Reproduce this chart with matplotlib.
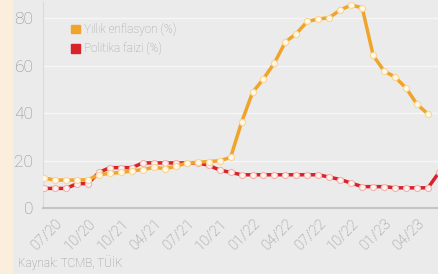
import matplotlib
matplotlib.use("Agg")
import matplotlib.pyplot as plt
from matplotlib.patches import Patch, Rectangle

# monthly data, 06/20 .. 06/23
months = ["06/20", "07/20", "08/20", "09/20", "10/20", "11/20", "12/20",
          "01/21", "02/21", "03/21", "04/21", "05/21", "06/21", "07/21", "08/21",
          "09/21", "10/21", "11/21", "12/21", "01/22", "02/22", "03/22", "04/22",
          "05/22", "06/22", "07/22", "08/22", "09/22", "10/22", "11/22", "12/22",
          "01/23", "02/23", "03/23", "04/23", "05/23", "06/23"]

enflasyon = [12.62, 11.76, 11.77, 11.75, 11.89, 14.03, 14.60,
             14.97, 15.61, 16.19, 17.14, 16.59, 17.53, 18.95, 19.25,
             19.58, 19.89, 21.31, 36.08, 48.69, 54.44, 61.14, 69.97,
             73.50, 78.62, 79.60, 80.21, 83.45, 85.51, 84.39, 64.27,
             57.68, 55.18, 50.51, 43.68, 39.59]

faiz = [8.25, 8.25, 8.25, 10.25, 10.25, 15.0, 17.0,
        17.0, 17.0, 19.0, 19.0, 19.0, 19.0, 19.0, 19.0,
        18.0, 16.0, 15.0, 14.0, 14.0, 14.0, 14.0, 14.0,
        14.0, 14.0, 14.0, 13.0, 12.0, 10.5, 9.0, 9.0,
        9.0, 8.5, 8.5, 8.5, 8.5, 15.0]

# tick labels as printed (third one reads 10/21 in the original)
tick_idx = [1, 4, 7, 10, 13, 16, 19, 22, 25, 28, 31, 34]
tick_labels = ["07/20", "10/20", "10/21", "04/21", "07/21", "10/21",
               "01/22", "04/22", "07/22", "10/22", "01/23", "04/23"]

BG = "#ebebeb"
GRAY = "#8e8e8e"
ORANGE = "#f0a42c"
RED = "#d8232a"

plt.rcParams["font.family"] = ["Roboto", "DejaVu Sans"]
plt.rcParams["font.weight"] = "light"

fig = plt.figure(figsize=(4.39, 2.74), dpi=100, facecolor=BG)
fig.patches.append(Rectangle((0, 0), 12 / 439, 1, transform=fig.transFigure,
                             color="#fbeedc", zorder=0))

ax = fig.add_axes([43 / 439, 66 / 274, 396 / 439, 206 / 274])
ax.set_facecolor(BG)

x1 = list(range(len(faiz)))
x2 = list(range(len(enflasyon)))
ax.plot(x1, faiz, color=RED, lw=2.5, marker="o", ms=4.4, mfc="#fdf0ee",
        mec="#f0b3ae", mew=0.8, zorder=3)
ax.plot(x2, enflasyon, color=ORANGE, lw=2.5, marker="o", ms=4.4, mfc="#fff8e8",
        mec="#f8d694", mew=0.8, zorder=4)

ax.set_xlim(-0.1, 36.0)
ax.set_ylim(0, 86.8)
ax.set_yticks([0, 20, 40, 60, 80])
ax.grid(axis="y", color="#f6f6f6", lw=1.0, zorder=1)
ax.set_axisbelow(True)

ax.set_xticks(tick_idx)
ax.set_xticklabels(tick_labels, rotation=45, ha="right", rotation_mode="anchor")
ax.tick_params(axis="x", length=0, pad=6, labelsize=10.5, colors=GRAY)
ax.tick_params(axis="y", length=0, pad=7, labelsize=12.5, colors=GRAY)

for s in ["top", "right"]:
    ax.spines[s].set_visible(False)
ax.spines["left"].set_color("#dadada")
ax.spines["left"].set_linewidth(0.8)
ax.spines["bottom"].set_color("#c4c4c4")
ax.spines["bottom"].set_linewidth(1.5)

handles = [Patch(color=ORANGE, label="Yıllık enflasyon (%)"),
           Patch(color=RED, label="Politika faizi (%)")]
leg = ax.legend(handles=handles, loc="upper left", bbox_to_anchor=(0.045, 0.95),
                frameon=False, handlelength=0.75, handleheight=0.75,
                handletextpad=0.35, labelspacing=0.5, fontsize=8.5)
for t in leg.get_texts():
    t.set_color("#a0a0a0")

fig.text(18 / 439, 1 - 263 / 274, "Kaynak: TCMB, TÜİK", fontsize=8.5,
         color="#8f8f8f", va="center", ha="left")

fig.savefig("out.png", dpi=100, facecolor=BG)
